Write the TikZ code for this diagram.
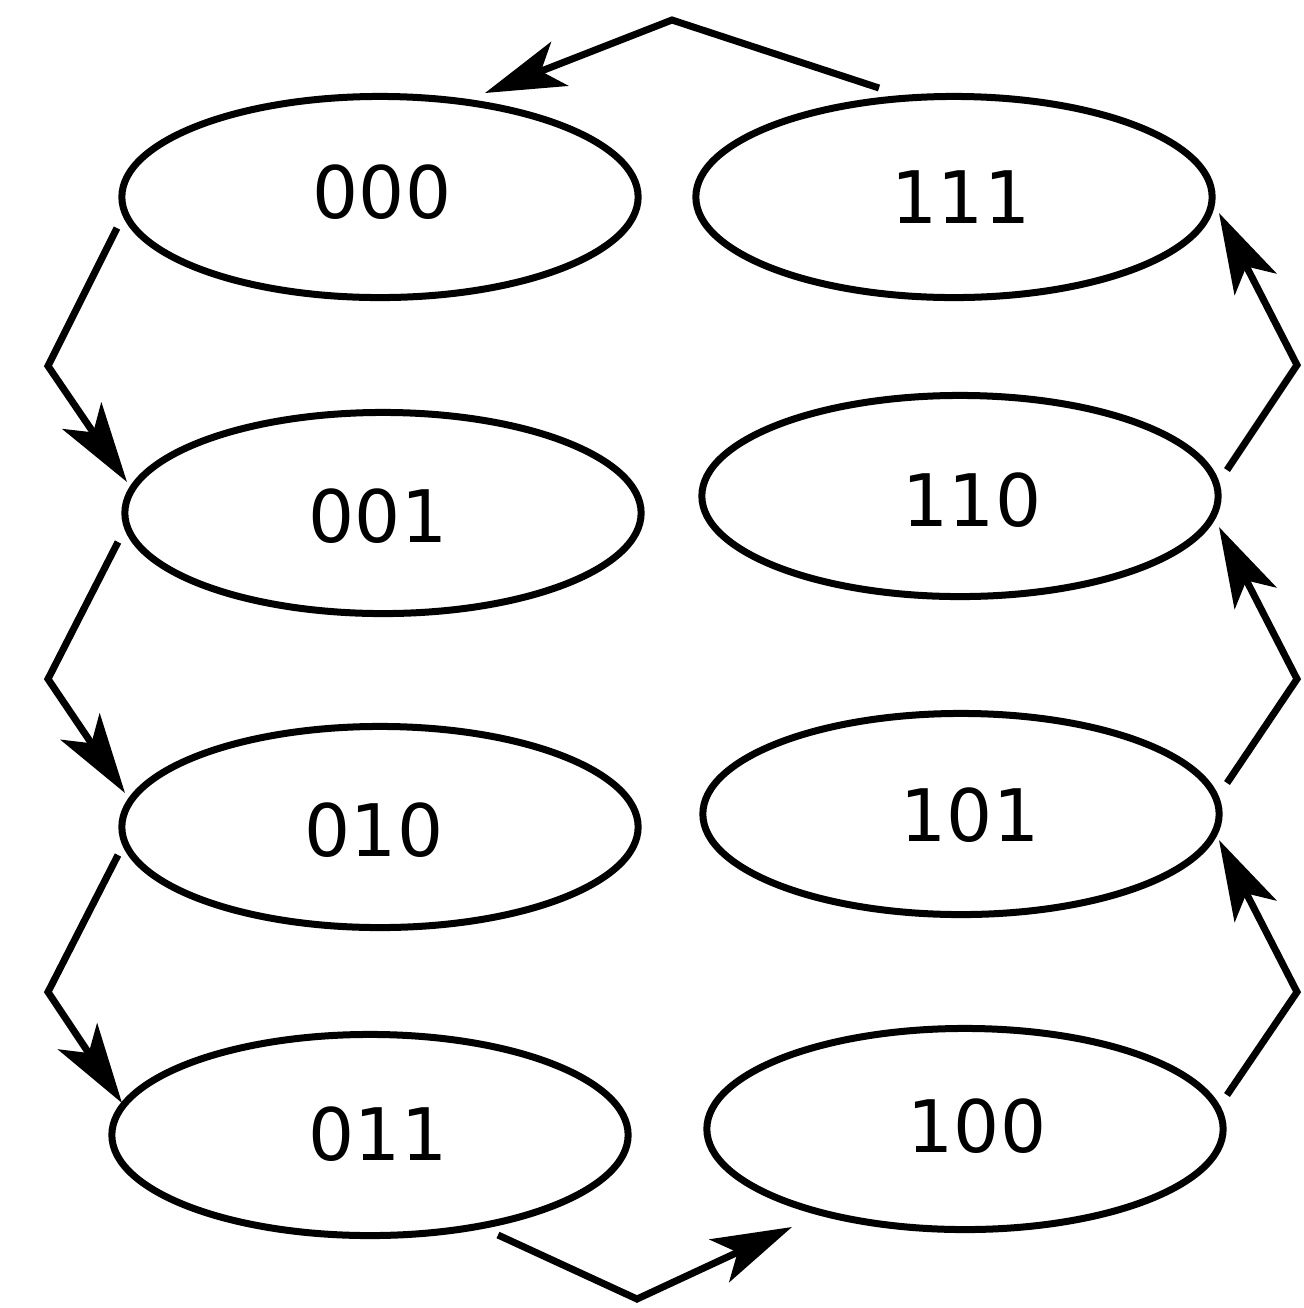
\documentclass[tikz,border=0pt]{standalone}
\usepackage{fontspec}
\setmainfont{DejaVu Sans}
\usetikzlibrary{arrows.meta,shapes.geometric,calc}
\begin{document}
\begin{tikzpicture}[x=0.01cm,y=-0.01cm,
  ell/.style={draw, ellipse, line width=0.07cm, minimum width=5.16cm, minimum height=2.01cm, inner sep=0pt},
  lbl/.style={font=\fontsize{20.6pt}{25pt}\selectfont, inner sep=0pt},
  conn/.style={line width=0.07cm, line join=miter, -{Stealth[length=0.8cm, width=0.47cm, inset=0.2cm]}}]
\useasboundingbox (0,0) rectangle (1304,1308);

% states (ellipses)
\node[ell] (e000) at (380,197) {};
\node[ell] (e111) at (954,197) {};
\node[ell] (e001) at (383,513) {};
\node[ell] (e110) at (960,496) {};
\node[ell] (e010) at (380,827) {};
\node[ell] (e101) at (961,814) {};
\node[ell] (e011) at (370,1135) {};
\node[ell] (e100) at (965,1129) {};

% labels
\node[lbl] (t000) at (382,192) {000};
\node[lbl] (t111) at (961,197) {111};
\node[lbl] (t001) at (378,516) {001};
\node[lbl] (t110) at (972,500) {110};
\node[lbl] (t010) at (374,830) {010};
\node[lbl] (t101) at (970,815) {101};
\node[lbl] (t011) at (378,1134) {011};
\node[lbl] (t100) at (977,1126) {100};

% bend points
\coordinate (bTop) at (672,20);
\coordinate (bL1) at (48,366);
\coordinate (bL2) at (48,679);
\coordinate (bL3) at (48,992);
\coordinate (bBot) at (637,1299);
\coordinate (bR3) at (1297,992);
\coordinate (bR2) at (1297,679);
\coordinate (bR1) at (1297,365);

% transitions
\draw[conn] ($(e111.center)+(-75,-109)$) -- (bTop) -- ($(e000.center)+(105,-104)$);
\draw[conn] ($(e000.center)+(-263,31)$) -- (bL1) -- ($(e001.center)+(-256,-31)$);
\draw[conn] ($(e001.center)+(-265,29)$) -- (bL2) -- ($(e010.center)+(-255,-34)$);
\draw[conn] ($(e010.center)+(-262,28)$) -- (bL3) -- ($(e011.center)+(-248,-32)$);
\draw[conn] ($(e011.center)+(128,100)$) -- (bBot) -- ($(e100.center)+(-173,98)$);
\draw[conn] ($(e100.center)+(262,-34)$) -- (bR3) -- ($(e101.center)+(258,26)$);
\draw[conn] ($(e101.center)+(266,-31)$) -- (bR2) -- ($(e110.center)+(259,31)$);
\draw[conn] ($(e110.center)+(267,-26)$) -- (bR1) -- ($(e111.center)+(265,16)$);
\end{tikzpicture}
\end{document}
